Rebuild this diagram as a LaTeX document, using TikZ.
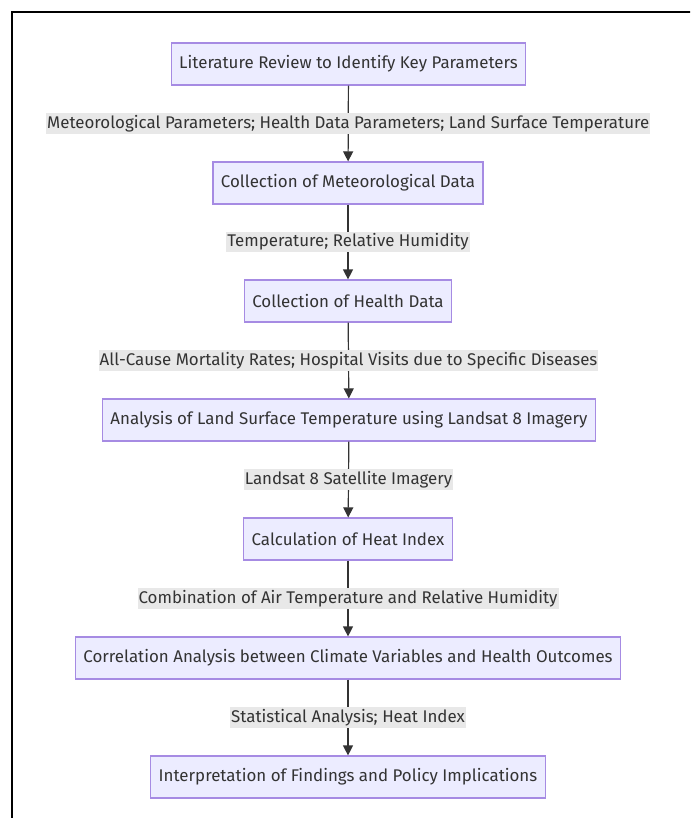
\documentclass[tikz,border=0pt]{standalone}
\usepackage{fontspec}
\setmainfont{Fira Sans}
\usetikzlibrary{arrows.meta}
\definecolor{boxFill}{HTML}{ECECFF}
\definecolor{boxLine}{HTML}{A68BE3}
\definecolor{ink}{HTML}{333333}
\definecolor{labelFill}{HTML}{E8E8E8}
\begin{document}
\begin{tikzpicture}
        [x=1pt, y=-1pt,
        step node/.style={rectangle, draw=boxLine, fill=boxFill, line width=1.2pt, minimum height=42pt, inner xsep=8pt, text=ink, font=\fontsize{16.9}{19}\selectfont},
        edge label/.style={fill=labelFill, inner xsep=1pt, inner ysep=2pt, text=ink, font=\fontsize{16.9}{19}\selectfont},
        flow/.style={line width=1.2pt, ink, -{Triangle[length=10pt, width=10pt]}}]
        \clip (0,0) rectangle (690,818);
        \draw[line width=2.5pt, black] (12,12) rectangle (720,860);
        \node[step node] (L) at (348.5,64) {Literature Review to Identify Key Parameters};
        \node[step node] (M) at (348,183) {Collection of Meteorological Data};
        \node[step node] (H) at (348,301) {Collection of Health Data};
        \node[step node] (S) at (349,420) {Analysis of Land Surface Temperature using Landsat 8 Imagery};
        \node[step node] (I) at (348,539) {Calculation of Heat Index};
        \node[step node] (C) at (348,658) {Correlation Analysis between Climate Variables and Health Outcomes};
        \node[step node] (P) at (348,777) {Interpretation of Findings and Policy Implications};
        
        \draw[flow] (L) -- (M) node[midway, edge label] {Meteorological Parameters; Health Data Parameters; Land Surface Temperature};
        \draw[flow] (M) -- (H) node[midway, edge label] {Temperature; Relative Humidity};
        \draw[flow] (H) -- (S) node[midway, edge label] {All-Cause Mortality Rates; Hospital Visits due to Specific Diseases};
        \draw[flow] (S) -- (I) node[midway, edge label] {Landsat 8 Satellite Imagery};
        \draw[flow] (I) -- (C) node[midway, edge label] {Combination of Air Temperature and Relative Humidity};
        \draw[flow] (C) -- (P) node[midway, edge label] {Statistical Analysis; Heat Index};
    
    \end{tikzpicture}
\end{document}
